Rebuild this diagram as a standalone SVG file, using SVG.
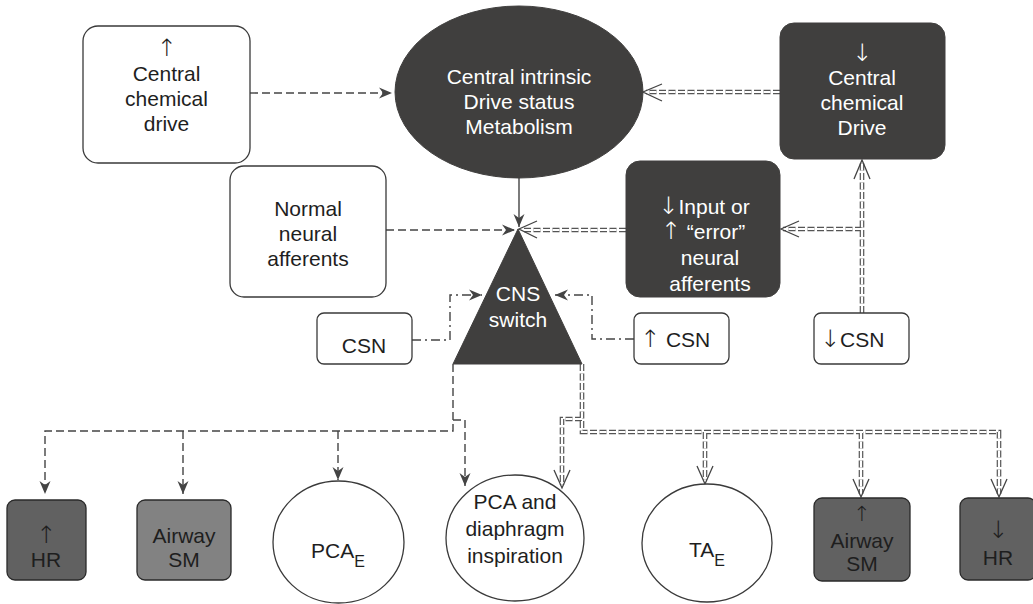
<svg xmlns="http://www.w3.org/2000/svg" width="1033" height="604" viewBox="0 0 1033 604">
<style>
text{font-family:"Liberation Sans",Arial,sans-serif;font-size:21px;text-anchor:middle;fill:#1e1e1e}
.w{fill:#ffffff}
.ar{font-family:"DejaVu Sans","Liberation Sans",sans-serif;font-size:24px;font-weight:200}
.box{fill:#ffffff;stroke:#3a3a3a;stroke-width:1.3}
.dark{fill:#403f3e;stroke:#403f3e}
.mid{fill:#616161;stroke:#2a2a2a;stroke-width:1.3}
.light{fill:#828282;stroke:#2a2a2a;stroke-width:1.3}
.dash{fill:none;stroke:#444;stroke-width:1.4;stroke-dasharray:8 4}
.dd{fill:none;stroke:#444;stroke-width:1.4;stroke-dasharray:9 4 2 4}
.solid{fill:none;stroke:#444;stroke-width:1.4}
.dbl{fill:none;stroke:#555;stroke-width:4.6;stroke-dasharray:7 2.5}
.dblw{fill:none;stroke:#fff;stroke-width:2.2;stroke-dasharray:7 2.5}
.vee{fill:none;stroke:#444;stroke-width:1.3}
</style>
<defs>
<marker id="fh" markerUnits="userSpaceOnUse" viewBox="-14 -7 16 14" refX="0" refY="0" markerWidth="16" markerHeight="14" orient="auto">
<path d="M-13,-5.5 L0,0 L-13,5.5 L-9,0 Z" fill="#444"/>
</marker>
</defs>

<g id="connectors">
<path class="dash" d="M250,93 H392" marker-end="url(#fh)"/>
<path class="solid" d="M519,178 V227" marker-end="url(#fh)"/>
<path class="dash" d="M386,230 H515" marker-end="url(#fh)"/>
<path class="dd" d="M412,340 H450 V295 H482" marker-end="url(#fh)"/>
<path class="dd" d="M634,339 H592 V295 H555" marker-end="url(#fh)"/>
<path class="dash" d="M453,364 V431 H45 V494" marker-end="url(#fh)"/>
<path class="dash" d="M183,431 V494" marker-end="url(#fh)"/>
<path class="dash" d="M338,431 V480" marker-end="url(#fh)"/>
<path class="dash" d="M453,420 H465 V486" marker-end="url(#fh)"/>
<path class="dbl" d="M780,92 H646"/>
<path class="dbl" d="M626,230 H522"/>
<path class="dbl" d="M862,313 V162"/>
<path class="dbl" d="M862,229 H783"/>
<path class="dbl" d="M582,364 V432 H999 V494"/>
<path class="dbl" d="M705,432 V480"/>
<path class="dbl" d="M861,432 V494"/>
<path class="dbl" d="M582,419 H562 V485"/>
<path class="dblw" d="M780,92 H646"/>
<path class="dblw" d="M626,230 H522"/>
<path class="dblw" d="M862,313 V162"/>
<path class="dblw" d="M862,229 H783"/>
<path class="dblw" d="M582,364 V432 H999 V494"/>
<path class="dblw" d="M705,432 V480"/>
<path class="dblw" d="M861,432 V494"/>
<path class="dblw" d="M582,419 H562 V485"/>
<path class="vee" d="M662,84 L643,92 L662,101"/>
<path class="vee" d="M537,221 L519,229 L537,238"/>
<path class="vee" d="M854,179 L862,160 L870,179"/>
<path class="vee" d="M799,221 L781,229 L799,237"/>
<path class="vee" d="M991,479 L999,497 L1007,479"/>
<path class="vee" d="M853,479 L861,497 L869,479"/>
<path class="vee" d="M697,466 L705,484 L713,466"/>
<path class="vee" d="M554,470 L562,488 L570,470"/>
</g>

<g id="central-chemical-drive-up">
<rect class="box" x="83" y="26" width="167" height="137" rx="15"/>
<text class="ar" x="166.5" y="56">↑</text>
<text x="166.5" y="81">Central</text>
<text x="166.5" y="106">chemical</text>
<text x="166.5" y="131">drive</text>
</g>

<g id="central-intrinsic">
<ellipse class="dark" cx="519" cy="92" rx="124" ry="86"/>
<text class="w" x="519" y="84">Central intrinsic</text>
<text class="w" x="519" y="109">Drive status</text>
<text class="w" x="519" y="134">Metabolism</text>
</g>

<g id="central-chemical-drive-down">
<rect class="dark" x="780" y="23" width="165" height="136" rx="14"/>
<text class="w ar" x="862" y="61">↓</text>
<text class="w" x="862" y="85">Central</text>
<text class="w" x="862" y="110">chemical</text>
<text class="w" x="862" y="135">Drive</text>
</g>

<g id="input-error-afferents">
<rect class="dark" x="626" y="161" width="154" height="136" rx="14"/>
<text class="w" x="704" y="214"><tspan class="ar">↓</tspan>Input or</text>
<text class="w" x="703" y="239"><tspan class="ar">↑</tspan> “error”</text>
<text class="w" x="710" y="265">neural</text>
<text class="w" x="710" y="291">afferents</text>
</g>

<g id="normal-afferents">
<rect class="box" x="230" y="166" width="156" height="131" rx="14"/>
<text x="308" y="216">Normal</text>
<text x="308" y="241">neural</text>
<text x="308" y="266">afferents</text>
</g>

<g id="cns-switch">
<polygon class="dark" points="518,229 453,364 582,364"/>
<text class="w" x="518" y="301">CNS</text>
<text class="w" x="518" y="327">switch</text>
</g>

<g id="csn">
<rect class="box" x="317" y="313" width="95" height="51" rx="7"/>
<text x="364" y="353">CSN</text>
</g>

<g id="csn-up">
<rect class="box" x="634" y="313" width="95" height="51" rx="7"/>
<text x="640" y="347" style="text-anchor:start"><tspan class="ar">↑</tspan> CSN</text>
</g>

<g id="csn-down">
<rect class="box" x="814" y="313" width="95" height="51" rx="7"/>
<text x="820" y="347" style="text-anchor:start"><tspan class="ar">↓</tspan>CSN</text>
</g>

<g id="hr-up">
<rect class="mid" x="7" y="500" width="79" height="80" rx="8"/>
<text class="ar" x="46" y="543">↑</text>
<text x="46" y="567">HR</text>
</g>

<g id="airway-sm">
<rect class="light" x="137" y="500" width="94" height="80" rx="8"/>
<text x="184" y="543">Airway</text>
<text x="184" y="567">SM</text>
</g>

<g id="pca-e">
<ellipse class="box" cx="338.5" cy="542" rx="65.5" ry="61"/>
<text x="338" y="558">PCA<tspan dy="9" font-size="16">E</tspan></text>
</g>

<g id="pca-diaphragm">
<ellipse class="box" cx="515" cy="538" rx="69" ry="63"/>
<text x="515" y="509">PCA and</text>
<text x="515" y="536">diaphragm</text>
<text x="515" y="563">inspiration</text>
</g>

<g id="ta-e">
<ellipse class="box" cx="707" cy="543" rx="65" ry="59"/>
<text x="707" y="557">TA<tspan dy="9" font-size="16">E</tspan></text>
</g>

<g id="airway-sm-up">
<rect class="mid" x="814" y="498" width="96" height="83" rx="8"/>
<text class="ar" x="862" y="521" style="font-size:21px">↑</text>
<text x="862" y="548">Airway</text>
<text x="862" y="571">SM</text>
</g>

<g id="hr-down">
<rect class="mid" x="960" y="498" width="76" height="82" rx="8"/>
<text class="ar" x="998" y="538">↓</text>
<text x="998" y="565">HR</text>
</g>
</svg>
